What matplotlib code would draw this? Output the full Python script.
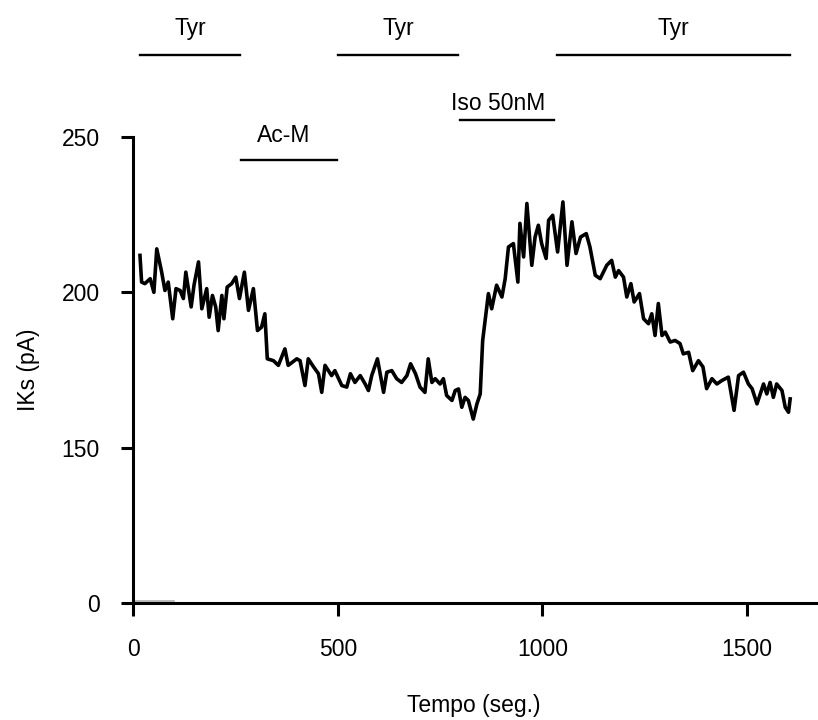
import matplotlib.pyplot as plt

plt.rcParams['font.family'] = ['Liberation Sans', 'DejaVu Sans']

# time (s) and IKs current (pA)
time_s = [17, 21, 29, 42, 51, 58, 70, 78, 86, 97, 105, 115, 123, 129, 142, 149, 160, 168, 180, 186,
          194, 202, 208, 217, 222, 230, 241, 251, 260, 272, 282, 294, 304, 314, 322, 328, 343, 355,
          371, 379, 400, 408, 420, 428, 441, 453, 461, 469, 485, 493, 510, 522, 531, 542, 555, 567,
          575, 583, 597, 612, 620, 632, 644, 656, 669, 678, 690, 701, 713, 721, 730, 738, 750, 758,
          766, 779, 787, 795, 803, 811, 819, 831, 840, 848, 854, 860, 868, 876, 888, 901, 909, 917,
          929, 940, 945, 954, 962, 974, 982, 990, 998, 1009, 1015, 1025, 1037, 1050, 1060, 1072,
          1082, 1093, 1107, 1116, 1129, 1141, 1157, 1169, 1178, 1186, 1198, 1206, 1216, 1224, 1237,
          1247, 1259, 1267, 1275, 1283, 1292, 1300, 1312, 1324, 1336, 1344, 1357, 1367, 1381, 1392,
          1401, 1414, 1426, 1438, 1454, 1468, 1479, 1491, 1503, 1512, 1524, 1540, 1548, 1556, 1564,
          1572, 1585, 1593, 1601, 1605]
iks_pa = [211.9, 203.3, 202.8, 204.4, 200, 214, 206.5, 200.6, 203.3, 191.5, 201.2, 200.6, 198, 206.5,
          195.3, 202.3, 209.8, 194.7, 201.2, 192, 199, 195.3, 187.7, 199, 191.5, 201.7, 202.8, 204.9,
          198, 206.5, 194.2, 201.2, 187.7, 188.8, 193.1, 178.6, 178, 176.5, 181.8, 176.5, 178.6, 178,
          170, 178.6, 176, 173.8, 167.8, 176.5, 173.2, 174.8, 170, 169.5, 173.8, 171, 173.2, 170.5,
          168.4, 173.2, 178.6, 167.8, 174.3, 174.8, 172.2, 171, 173.2, 177, 173.8, 169.5, 167.8, 178.6,
          171, 172.2, 170.5, 172.2, 166.8, 165.2, 168.4, 168.9, 163, 166.2, 165.2, 159.2, 164.1, 167.3,
          184.5, 191, 199.6, 194.7, 202.3, 198.5, 204.4, 214.6, 215.7, 203.3, 222.2, 211.4, 228.6,
          208.7, 217.8, 221.6, 215.7, 210.9, 223.2, 224.8, 213, 229.1, 208.7, 222.7, 212.5, 217.8,
          218.9, 214.6, 205.5, 204.4, 208.7, 210.3, 204.9, 207, 204.9, 198.5, 202.8, 196.9, 199.6,
          191.5, 189.9, 193.1, 186.1, 196.4, 186.1, 187.2, 184, 184.5, 183.5, 180.2, 180.7, 174.8, 178,
          176, 169, 172.2, 170.5, 171.6, 172.7, 162, 173.2, 174.3, 170.5, 169, 164.1, 170.5, 167.3,
          171, 166.2, 170.5, 168.4, 163, 161.4, 165.7]

# broken y axis: the "0" tick sits one step below 150
ytick_pos = [100, 150, 200, 250]
ytick_lbl = ['0', '150', '200', '250']
xticks = [0, 500, 1000, 1500]

# drug application bars (start, end in s)
tyr_bars = [(17, 261), (501, 794), (1036, 1605)]
acm_bar = (264, 498)
iso_bar = (799, 1029)

fig = plt.figure(figsize=(8.18, 7.2), dpi=100)
ax = fig.add_axes([0.1626, 0.1625, 0.8374, 0.6472])

ax.plot(time_s, iks_pa, color='black', linewidth=2.6)
ax.plot([0, 100], [100.6, 100.6], color='#b0b0b0', linewidth=1.2)

ax.set_xlim(0, 1673)
ax.set_ylim(100, 250)
ax.set_xticks(xticks)
ax.set_yticks(ytick_pos)
ax.set_yticklabels(ytick_lbl)
ax.tick_params(axis='both', direction='out', length=9, width=2.2, labelsize=16.5)
ax.tick_params(axis='x', pad=16)
ax.tick_params(axis='y', pad=15)

for side in ['top', 'right']:
    ax.spines[side].set_visible(False)
for side in ['left', 'bottom']:
    ax.spines[side].set_linewidth(2.2)

ax.set_ylabel('IKs (pA)', fontsize=16.5, va='center')
ax.yaxis.set_label_coords(-0.153, 0.5)
ax.set_xlabel('Tempo (seg.)', fontsize=16.5, va='center')
ax.xaxis.set_label_coords(0.498, -0.221)

for x0, x1 in tyr_bars:
    ax.plot([x0, x1], [276.5, 276.5], color='black', linewidth=1.7, clip_on=False)
    ax.text((x0 + x1) / 2, 282.9, 'Tyr', ha='center', va='baseline', fontsize=16.5)

ax.plot(acm_bar, [242.6, 242.6], color='black', linewidth=1.7, clip_on=False)
ax.text(sum(acm_bar) / 2 - 14, 248.4, 'Ac-M', ha='center', va='baseline', fontsize=16.5)
ax.plot(iso_bar, [255.5, 255.5], color='black', linewidth=1.7, clip_on=False)
ax.text(sum(iso_bar) / 2 - 23, 258.7, 'Iso 50nM', ha='center', va='baseline', fontsize=16.5)

fig.savefig('out.png', dpi=100)
